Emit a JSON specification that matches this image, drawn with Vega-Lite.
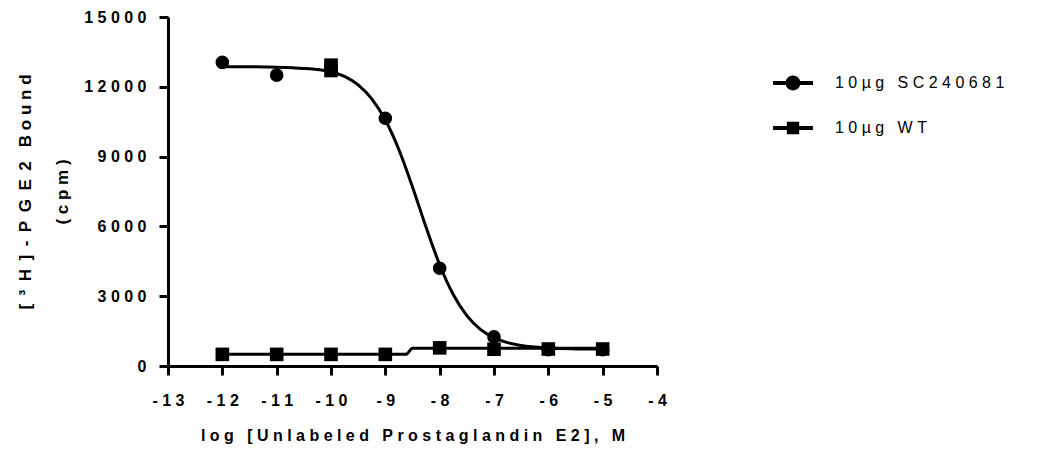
{
  "$schema": "https://vega.github.io/schema/vega-lite/v6.json",
  "autosize": "none",
  "padding": {"left": 168, "top": 17, "right": 385, "bottom": 82},
  "width": 489,
  "height": 349,
  "background": "white",
  "config": {
    "view": {"stroke": null},
    "font": "Liberation Sans",
    "axis": {
      "grid": false,
      "domainColor": "black",
      "domainWidth": 3,
      "tickColor": "black",
      "tickWidth": 3,
      "tickSize": 9,
      "labelFont": "Liberation Sans",
      "labelFontSize": 16,
      "labelFontWeight": "bold",
      "labelColor": "black",
      "titleFont": "Liberation Sans",
      "titleFontSize": 16,
      "titleFontWeight": "bold",
      "titleColor": "black"
    }
  },
  "datasets": {
    "points": [
      {"series": "10µg SC240681", "logconc": -12, "cpm": 13050},
      {"series": "10µg SC240681", "logconc": -11, "cpm": 12500},
      {"series": "10µg SC240681", "logconc": -10, "cpm": 12850},
      {"series": "10µg SC240681", "logconc": -9, "cpm": 10650},
      {"series": "10µg SC240681", "logconc": -8, "cpm": 4200},
      {"series": "10µg SC240681", "logconc": -7, "cpm": 1250},
      {"series": "10µg SC240681", "logconc": -6, "cpm": 700},
      {"series": "10µg SC240681", "logconc": -5, "cpm": 700},
      {"series": "10µg WT", "logconc": -12, "cpm": 500},
      {"series": "10µg WT", "logconc": -11, "cpm": 500},
      {"series": "10µg WT", "logconc": -10, "cpm": 500},
      {"series": "10µg WT", "logconc": -10, "cpm": 12930},
      {"series": "10µg WT", "logconc": -10, "cpm": 12700},
      {"series": "10µg WT", "logconc": -9, "cpm": 500},
      {"series": "10µg WT", "logconc": -8, "cpm": 780},
      {"series": "10µg WT", "logconc": -7, "cpm": 720},
      {"series": "10µg WT", "logconc": -6, "cpm": 730},
      {"series": "10µg WT", "logconc": -5, "cpm": 730}
    ],
    "curve": [
      {"series": "10µg SC240681", "logconc": -12, "cpm": 12867},
      {"series": "10µg SC240681", "logconc": -11.5, "cpm": 12861},
      {"series": "10µg SC240681", "logconc": -11, "cpm": 12842},
      {"series": "10µg SC240681", "logconc": -10.5, "cpm": 12790},
      {"series": "10µg SC240681", "logconc": -10.25, "cpm": 12740},
      {"series": "10µg SC240681", "logconc": -10, "cpm": 12650},
      {"series": "10µg SC240681", "logconc": -9.75, "cpm": 12450},
      {"series": "10µg SC240681", "logconc": -9.5, "cpm": 12080},
      {"series": "10µg SC240681", "logconc": -9.25, "cpm": 11480},
      {"series": "10µg SC240681", "logconc": -9, "cpm": 10570},
      {"series": "10µg SC240681", "logconc": -8.75, "cpm": 9295},
      {"series": "10µg SC240681", "logconc": -8.5, "cpm": 7698},
      {"series": "10µg SC240681", "logconc": -8.25, "cpm": 5961},
      {"series": "10µg SC240681", "logconc": -8, "cpm": 4353},
      {"series": "10µg SC240681", "logconc": -7.75, "cpm": 3071},
      {"series": "10µg SC240681", "logconc": -7.5, "cpm": 2164},
      {"series": "10µg SC240681", "logconc": -7.25, "cpm": 1577},
      {"series": "10µg SC240681", "logconc": -7, "cpm": 1217},
      {"series": "10µg SC240681", "logconc": -6.75, "cpm": 1005},
      {"series": "10µg SC240681", "logconc": -6.5, "cpm": 882},
      {"series": "10µg SC240681", "logconc": -6, "cpm": 772},
      {"series": "10µg SC240681", "logconc": -5.5, "cpm": 736},
      {"series": "10µg SC240681", "logconc": -5, "cpm": 725},
      {"series": "10µg WT", "logconc": -12, "cpm": 500},
      {"series": "10µg WT", "logconc": -8.62, "cpm": 500},
      {"series": "10µg WT", "logconc": -8.5, "cpm": 760},
      {"series": "10µg WT", "logconc": -5, "cpm": 760}
    ]
  },
  "encoding": {
    "x": {
      "field": "logconc",
      "type": "quantitative",
      "scale": {"domain": [-13, -4], "nice": false, "zero": false},
      "axis": {
        "values": [-13, -12, -11, -10, -9, -8, -7, -6, -5, -4],
        "labelExpr": "join(split(toString(datum.value), ''), '\u00a0')",
        "labelPadding": 17,
        "labelFlush": false,
        "title": "l\u00a0o\u00a0g\u00a0\u00a0\u00a0[\u00a0U\u00a0n\u00a0l\u00a0a\u00a0b\u00a0e\u00a0l\u00a0e\u00a0d\u00a0\u00a0\u00a0P\u00a0r\u00a0o\u00a0s\u00a0t\u00a0a\u00a0g\u00a0l\u00a0a\u00a0n\u00a0d\u00a0i\u00a0n\u00a0\u00a0\u00a0E\u00a02\u00a0]\u00a0,\u00a0\u00a0\u00a0M",
        "titlePadding": 19
      }
    },
    "y": {
      "field": "cpm",
      "type": "quantitative",
      "scale": {"domain": [0, 15000], "nice": false},
      "axis": {
        "values": [0, 3000, 6000, 9000, 12000, 15000],
        "labelExpr": "join(split(toString(datum.value), ''), '\u00a0')",
        "labelPadding": 13,
        "labelFlush": false,
        "title": ["[\u2002\u00b3\u2002H\u2002]\u2002-\u2002P\u2002G\u2002E\u20022\u00a0\u00a0\u00a0B\u00a0o\u00a0u\u00a0n\u00a0d", "(\u00a0c\u00a0p\u00a0m\u00a0)"],
        "titleFontSize": 17,
        "titleLineHeight": 37,
        "titlePadding": 12
      }
    }
  },
  "resolve": {"scale": {"shape": "independent"}},
  "layer": [
    {
      "data": {"name": "curve"},
      "mark": {"type": "line", "color": "black", "strokeWidth": 3, "interpolate": "monotone"},
      "encoding": {"detail": {"field": "series"}}
    },
    {
      "data": {"name": "points"},
      "mark": {"type": "point", "filled": true, "color": "black", "opacity": 1, "size": 185},
      "encoding": {
        "shape": {
          "field": "series",
          "type": "nominal",
          "scale": {"domain": ["10µg SC240681", "10µg WT"], "range": ["circle", "square"]},
          "legend": null
        }
      }
    },
    {
      "data": {"name": "points"},
      "mark": {"type": "point", "filled": true, "color": "black", "opacity": 0, "size": 185},
      "encoding": {
        "shape": {
          "field": "series",
          "type": "nominal",
          "scale": {"domain": ["10µg SC240681", "10µg WT"], "range": ["M-1,-0.1H1V0.1H-1ZM-0.37,0A0.37,0.37,0,1,1,0.37,0A0.37,0.37,0,1,1,-0.37,0Z", "M-1,-0.1H1V0.1H-1ZM-0.31,-0.31H0.31V0.31H-0.31Z"]},
          "legend": {
            "title": null,
            "orient": "none",
            "legendX": 605,
            "legendY": 46,
            "symbolSize": 1600,
            "symbolStrokeWidth": 0,
            "symbolFillColor": "black",
            "symbolOpacity": 1,
            "rowPadding": 17,
            "labelOffset": 22,
            "labelFont": "Liberation Sans",
            "labelFontSize": 16,
            "labelColor": "black",
            "labelLimit": 400,
            "labelExpr": "join(split(datum.label, ''), '\u00a0')"
          }
        }
      }
    }
  ]
}
